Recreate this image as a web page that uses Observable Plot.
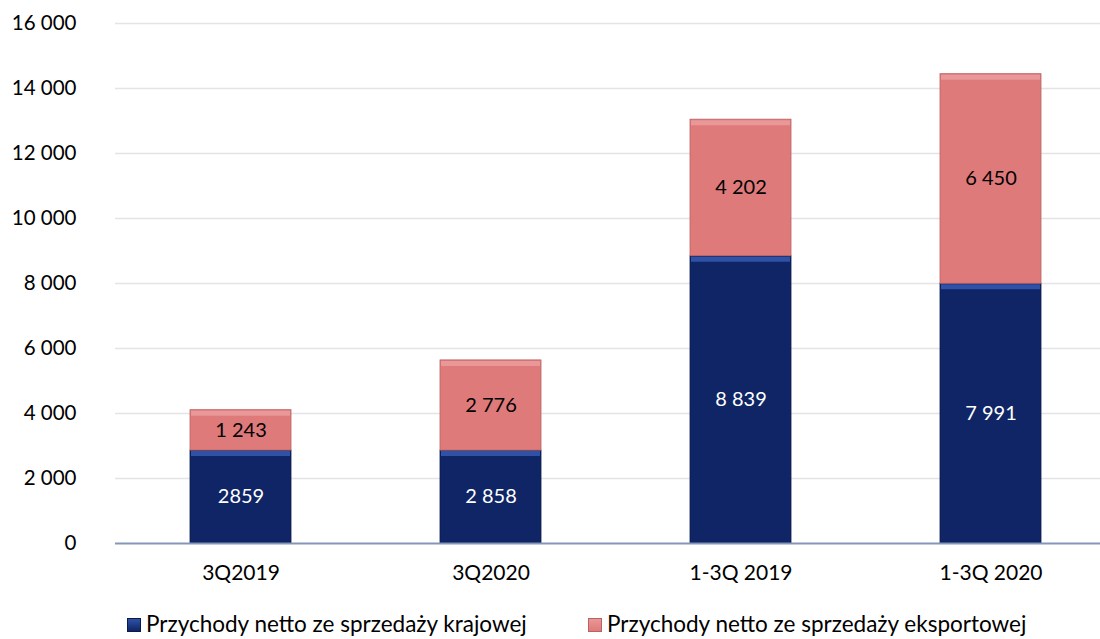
<!DOCTYPE html>
<html><head><meta charset="utf-8">
<script src="https://cdn.jsdelivr.net/npm/d3@7"></script>
<script src="https://cdn.jsdelivr.net/npm/@observablehq/plot@0.6"></script>
<style>
body{margin:0;background:#fff;font-family:Lato,"Noto Sans",sans-serif;}
#chart{width:1100px;height:588px;}
#legend{position:relative;width:1100px;height:51px;font-size:22.5px;color:#000;}
#legend span.item{position:absolute;top:24px;white-space:nowrap;line-height:24px;}
#legend i{position:absolute;top:6px;width:12px;height:12px;}
#legend b{font-weight:normal;position:absolute;}
</style></head>
<body><div id="chart"></div><div id="legend"></div>
<script>
const categories = ["3Q2019", "3Q2020", "1-3Q 2019", "1-3Q 2020"];
const domestic = [2859, 2858, 8839, 7991];
const exportSales = [1243, 2776, 4202, 6450];
const domesticLabels = ["2859", "2 858", "8 839", "7 991"];
const exportLabels = ["1 243", "2 776", "4 202", "6 450"];
const seriesNames = ["Przychody netto ze sprzedaży krajowej", "Przychody netto ze sprzedaży eksportowej"];
const yTicks = [0, 2000, 4000, 6000, 8000, 10000, 12000, 14000, 16000];
const yTickLabels = ["0", "2 000", "4 000", "6 000", "8 000", "10 000", "12 000", "14 000", "16 000"];

const rows = [];
categories.forEach((c, i) => {
  rows.push({cat: c, series: seriesNames[0], y1: 0, y2: domestic[i], label: domesticLabels[i]});
  rows.push({cat: c, series: seriesNames[1], y1: domestic[i], y2: domestic[i] + exportSales[i], label: exportLabels[i]});
});
const fills = {[seriesNames[0]]: "#0F2566", [seriesNames[1]]: "#DF7A7B"};
const tops = {[seriesNames[0]]: "#2F52A6", [seriesNames[1]]: "#EA9797"};
const strokes = {[seriesNames[0]]: "#0A1A4A", [seriesNames[1]]: "#B86363"};
const textCol = {[seriesNames[0]]: "#FFFFFF", [seriesNames[1]]: "#000000"};

const plot = Plot.plot({
  width: 1100, height: 588,
  marginLeft: 115, marginRight: 0, marginTop: 23, marginBottom: 45,
  style: {fontFamily: "Lato, 'Noto Sans', sans-serif", fontSize: "21px", color: "#000", background: "#fff", overflow: "visible"},
  x: {type: "band", domain: categories, range: [115, 1115], paddingInner: 0.596, paddingOuter: 0.298, label: null},
  y: {domain: [0, 16000], label: null},
  marks: [
    Plot.ruleY(yTicks.slice(1), {stroke: "#E3E3E8", strokeWidth: 1.5}),
    Plot.rectY(rows, {x: "cat", y1: "y1", y2: "y2", fill: d => fills[d.series], stroke: d => strokes[d.series], strokeWidth: 0.8}),
    Plot.tickY(rows, {x: "cat", y: "y2", stroke: d => tops[d.series], strokeWidth: 5, dy: 3, inset: 1}),
    Plot.text(rows, {x: "cat", y: d => (d.y1 + d.y2) / 2, text: "label", fill: d => textCol[d.series], fontSize: 20}),
    Plot.ruleY([0], {stroke: "#8497B8", strokeWidth: 2}),
    Plot.axisY(yTicks, {tickSize: 0, tickPadding: 39, tickFormat: (d, i) => yTickLabels[i], fontSize: 20.5}),
    Plot.axisX({tickSize: 0, tickPadding: 22, fontSize: 21})
  ]
});
document.getElementById("chart").appendChild(plot);

const legend = document.getElementById("legend");
const pos = [127, 588];
seriesNames.forEach((s, i) => {
  const it = document.createElement("span");
  it.className = "item";
  it.style.left = pos[i] + "px";
  it.innerHTML = `<i style="left:0;background:linear-gradient(${tops[s]},${fills[s]});border:1px solid ${strokes[s]}"></i><b style="left:19px">${s}</b>`;
  legend.appendChild(it);
});
</script></body></html>
